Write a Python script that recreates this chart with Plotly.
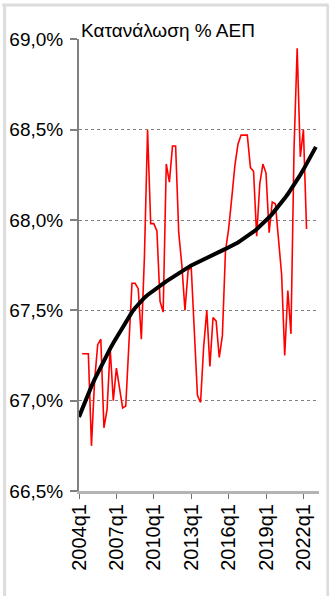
import plotly.graph_objects as go

# ---- data ----
quarters = [f"{y}q{q}" for y in range(2004, 2024) for q in range(1, 5)][:77]

red_x = quarters[1:74]
red_values = [
    67.26, 67.26, 67.26, 66.75, 67.11, 67.31, 67.34, 66.85, 66.95, 67.29,
    67.00, 67.18, 67.06, 66.96, 66.97, 67.30, 67.65, 67.65, 67.62, 67.34,
    67.80, 68.50, 67.98, 67.98, 67.94, 67.55, 67.49, 68.31, 68.21, 68.41,
    68.41, 67.93, 67.75, 67.50, 67.72, 67.74, 67.40, 67.03, 66.99, 67.30,
    67.50, 67.19, 67.46, 67.44, 67.24, 67.36, 67.83, 67.95, 68.12, 68.30,
    68.42, 68.47, 68.47, 68.47, 68.29, 68.27, 67.91, 68.20, 68.31, 68.26,
    67.93, 68.10, 68.09, 67.90, 67.70, 67.25, 67.61, 67.37, 68.40, 68.95,
    68.35, 68.50, 67.95,
]

trend_values = [
    66.910, 66.955, 66.998, 67.040, 67.080, 67.118, 67.154, 67.189, 67.223, 67.256,
    67.288, 67.319, 67.349, 67.379, 67.408, 67.437, 67.465, 67.490, 67.513, 67.534,
    67.553, 67.570, 67.585, 67.599, 67.612, 67.624, 67.636, 67.648, 67.660, 67.672,
    67.684, 67.695, 67.706, 67.717, 67.728, 67.738, 67.748, 67.757, 67.766, 67.775,
    67.784, 67.792, 67.800, 67.808, 67.816, 67.824, 67.832, 67.840, 67.848, 67.857,
    67.866, 67.876, 67.887, 67.898, 67.910, 67.922, 67.935, 67.949, 67.964, 67.980,
    67.997, 68.015, 68.034, 68.054, 68.075, 68.097, 68.120, 68.144, 68.169, 68.195,
    68.222, 68.250, 68.279, 68.309, 68.340, 68.372, 68.405,
]

x_tick_labels = ["2004q1", "2007q1", "2010q1", "2013q1", "2016q1", "2019q1", "2022q1"]
y_tick_vals = [66.5, 67.0, 67.5, 68.0, 68.5, 69.0]
y_tick_text = ["66,5%", "67,0%", "67,5%", "68,0%", "68,5%", "69,0%"]
title_text = "Κατανάλωση % ΑΕΠ"

# ---- figure ----
fig = go.Figure()
fig.add_trace(go.Scatter(x=red_x, y=red_values, mode="lines",
                         line=dict(color="#ff0000", width=1.6), showlegend=False))
fig.add_trace(go.Scatter(x=quarters, y=trend_values, mode="lines",
                         line=dict(color="#000000", width=4), showlegend=False))

font = "Liberation Sans, Arial, sans-serif"

fig.update_layout(
    width=329, height=596,
    margin=dict(l=79, r=10, t=39, b=105),
    paper_bgcolor="white", plot_bgcolor="white",
    xaxis=dict(
        type="category", categoryorder="array", categoryarray=quarters,
        range=[0, 77], automargin=False,
        tickvals=x_tick_labels, ticktext=x_tick_labels,
        tickangle=-90,
        tickfont=dict(family=font, size=20, color="black"),
        ticks="outside", ticklen=5, tickcolor="#707070", tickwidth=1,
        ticklabelstandoff=-3,
        showgrid=False, zeroline=False,
        showline=True, linecolor="#b4b4b4", linewidth=3,
    ),
    yaxis=dict(
        range=[66.5, 69.002], automargin=False,
        tickvals=y_tick_vals, ticktext=y_tick_text,
        tickfont=dict(family=font, size=19, color="black"),
        ticks="outside", ticklen=7, tickcolor="#808080", tickwidth=2,
        ticklabelstandoff=3,
        showgrid=True, gridcolor="#808080", griddash="dot", gridwidth=1,
        zeroline=False,
        showline=True, linecolor="#808080", linewidth=2,
    ),
    annotations=[dict(
        text=title_text, xref="paper", yref="paper", x=0.0, y=1.0,
        xanchor="left", yanchor="bottom", yshift=-4, showarrow=False,
        font=dict(family=font, size=19, color="black"),
    )],
    shapes=[
        dict(type="line", xref="paper", yref="paper", x0=-0.32, x1=1.04, y0=1.075, y1=1.075,
             line=dict(color="#dcdcdc", width=3)),
        dict(type="line", xref="paper", yref="paper", x0=-0.31, x1=-0.31, y0=-0.24, y1=1.075,
             line=dict(color="#dcdcdc", width=3)),
        dict(type="line", xref="paper", yref="paper", x0=1.037, x1=1.037, y0=-0.24, y1=1.075,
             line=dict(color="#dcdcdc", width=3)),
    ],
)

fig.write_html("out.html", config={"displayModeBar": False},
               post_script="document.body.style.margin='0';")
